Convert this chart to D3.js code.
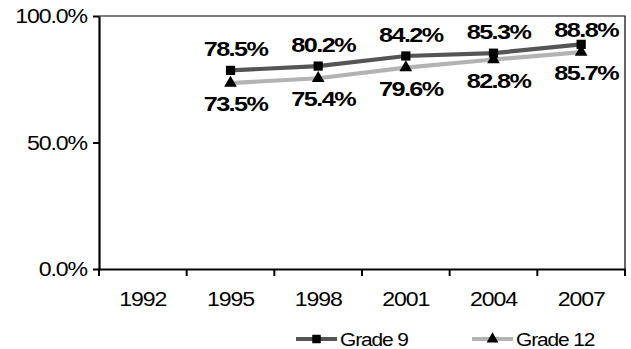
<!DOCTYPE html>
<html><head><meta charset="utf-8">
<script src="https://cdn.jsdelivr.net/npm/d3@7"></script>
<style>body{margin:0;background:#fff}svg{display:block}text{font-family:"Liberation Sans",Arial,sans-serif;fill:#000}</style>
</head><body><svg id="c" width="631" height="349"></svg>
<script>
const years = ["1992","1995","1998","2001","2004","2007"];
const grade9 = [null, 78.5, 80.2, 84.2, 85.3, 88.8];
const grade12 = [null, 73.5, 75.4, 79.6, 82.8, 85.7];
const yTicks = [0, 50, 100];
const seriesNames = ["Grade 9", "Grade 12"];

const svg = d3.select("#c");
const L = 99, R = 625, T = 16, B = 269;
const x = d3.scaleBand().domain(years).range([L, R]);
const y = d3.scaleLinear().domain([0, 100]).range([B, T]);
const SX = 1.1;
const FF = "Liberation Sans, Arial, sans-serif";

// frame (top + right)
svg.append("path").attr("d", `M${L},${T}H${R}V${B}`).attr("fill","none").attr("stroke","#000").attr("stroke-width",1.2);

// y axis
const ya = svg.append("g").attr("transform", `translate(${L},0)`)
  .call(d3.axisLeft(y).tickValues(yTicks).tickFormat(d => d3.format(".1f")(d) + "%").tickSize(6).tickSizeOuter(0).tickPadding(5));
ya.select(".domain").attr("stroke","#000").attr("stroke-width",2.2);
ya.selectAll(".tick line").attr("stroke","#000").attr("stroke-width",2);
ya.selectAll(".tick text").attr("font-size",21).style("letter-spacing","-1px").attr("font-family",FF).attr("fill","#000").attr("transform",`scale(${SX},1)`);

// x axis
const xa = svg.append("g").attr("transform", `translate(0,${B})`)
  .call(d3.axisBottom(x).tickSize(0).tickSizeOuter(0).tickPadding(22));
xa.select(".domain").attr("stroke","#000").attr("stroke-width",2.2);
xa.selectAll(".tick text").attr("font-size",21).style("letter-spacing","-1px").attr("font-family",FF).attr("fill","#000").attr("transform",`scale(${SX},1)`);
const bounds = years.map(d => x(d)).concat([x(years[years.length-1]) + x.bandwidth()]);
xa.selectAll("line.bt").data(bounds).join("line").attr("class","bt")
  .attr("x1", d => d).attr("x2", d => d).attr("y1", 0).attr("y2", 7)
  .attr("stroke","#000").attr("stroke-width",2);

const cx = d => x(d) + x.bandwidth()/2;
const series = [
  {name: seriesNames[0], vals: grade9, color: "#555555", marker: d3.symbolSquare, msize: 85, dy: -14},
  {name: seriesNames[1], vals: grade12, color: "#b3b3b3", marker: d3.symbolTriangle, msize: 70, dy: 28}
];
const line = d3.line().defined(d => d.v != null).x(d => cx(d.k)).y(d => y(d.v));

series.forEach(s => {
  const pts = years.map((k,i) => ({k, v: s.vals[i]}));
  svg.append("path").datum(pts).attr("d", line).attr("fill","none").attr("stroke", s.color).attr("stroke-width",4.2);
});
series.forEach(s => {
  const pts = years.map((k,i) => ({k, v: s.vals[i]})).filter(d => d.v != null);
  svg.selectAll(null).data(pts).join("path")
    .attr("d", d3.symbol().type(s.marker).size(s.msize))
    .attr("transform", d => `translate(${cx(d.k)},${y(d.v)})`).attr("fill","#000");
  svg.selectAll(null).data(pts).join("text")
    .attr("transform", d => `translate(${cx(d.k)+5},${Math.max(T + 21, y(d.v)+s.dy)}) scale(1.2,1)`)
    .attr("text-anchor","middle").attr("font-size",21).attr("font-weight","bold").style("letter-spacing","-1.3px")
    .text(d => d3.format(".1f")(d.v) + "%");
});

// legend
const lg = [
  {s: series[0], x0: 296, x1: 337, tx: 340},
  {s: series[1], x0: 472, x1: 513, tx: 516}
];
const ly = 339;
lg.forEach(l => {
  svg.append("line").attr("x1", l.x0).attr("x2", l.x1).attr("y1", ly).attr("y2", ly).attr("stroke", l.s.color).attr("stroke-width",4);
  svg.append("path").attr("d", d3.symbol().type(l.s.marker).size(l.s.msize*0.85)).attr("transform", `translate(${(l.x0+l.x1)/2},${ly})`).attr("fill","#000");
  svg.append("text").attr("transform", `translate(${l.tx},${ly+6.5}) scale(${SX},1)`).attr("font-size",19).style("letter-spacing","-1px").text(l.s.name);
});
</script></body></html>
